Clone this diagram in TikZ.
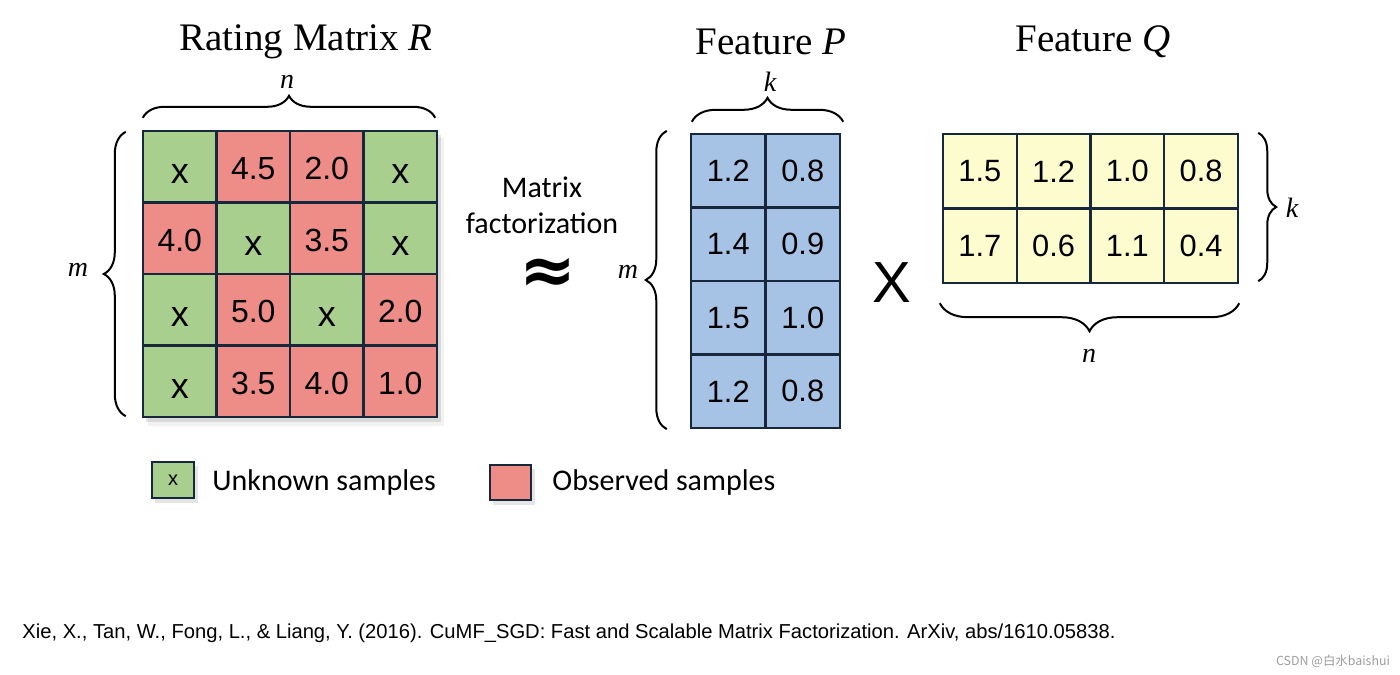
\documentclass[tikz,border=0pt]{standalone}
\usepackage{fontspec}
\setmainfont{Liberation Serif}
\newfontfamily\arialf{Liberation Sans}
\newfontfamily\calib{Carlito}
\newfontfamily\djv{DejaVu Sans}
\newfontfamily\cjkf{Noto Sans CJK SC}
\usetikzlibrary{decorations.pathreplacing}
\definecolor{cgreen}{HTML}{A9CF8E}
\definecolor{cred}{HTML}{EE8D88}
\definecolor{cblue}{HTML}{A6C3E5}
\definecolor{cyel}{HTML}{FDFCCF}
\definecolor{cedge}{HTML}{17283C}
\tikzset{
  cellbase/.style={draw=cedge, line width=1.2pt, inner sep=0pt, anchor=center},
  rcell/.style={cellbase, minimum width=36.75pt, minimum height=35.75pt, font=\arialf\fontsize{16}{17}\selectfont},
  rx/.style={font=\arialf\fontsize{18}{19}\selectfont},
  pcell/.style={cellbase, fill=cblue, minimum width=37.25pt, minimum height=36.75pt, font=\arialf\fontsize{15.4}{16}\selectfont},
  qcell/.style={cellbase, fill=cyel, minimum width=36.9pt, minimum height=37.25pt, font=\arialf\fontsize{15.4}{16}\selectfont},
  bracestyle/.style={draw=black, line width=1pt, decorate, decoration={brace, amplitude=#1}},
  title/.style={font=\fontsize{19.5}{22}\selectfont, inner sep=0pt},
  dimlabel/.style={font=\itshape\fontsize{14}{16}\selectfont, inner sep=0pt},
  caltext/.style={font=\calib\fontsize{15}{17}\selectfont, inner sep=0pt},
  shadowbox/.style={fill=black, opacity=0.10},
}
\begin{document}
\begin{tikzpicture}[x=0.5pt, y=-0.5pt]
\useasboundingbox (0,0) rectangle (1400,674);
\fill[white] (0,0) rectangle (1400,674);

% shadows
\fill[shadowbox] (146,135) rectangle (441,422);
\fill[shadowbox, opacity=0.05] (148,138) rectangle (444,426);
\fill[shadowbox] (155,466) rectangle (198,503);
\fill[shadowbox] (493,469) rectangle (535,505);

% titles
\node[title] (tR) at (306,42) {Rating Matrix \textit{R}};
\node[title] (tP) at (771,42) {Feature \textit{P}};
\node[title] (tQ) at (1093,42) {Feature \textit{Q}};

% rating matrix R
\foreach \r/\c/\t/\f in {
  1/1/x/cgreen, 1/2/4.5/cred, 1/3/2.0/cred, 1/4/x/cgreen,
  2/1/4.0/cred, 2/2/x/cgreen, 2/3/3.5/cred, 2/4/x/cgreen,
  3/1/x/cgreen, 3/2/5.0/cred, 3/3/x/cgreen, 3/4/2.0/cred,
  4/1/x/cgreen, 4/2/3.5/cred, 4/3/4.0/cred, 4/4/1.0/cred}{
  \node[rcell, fill=\f] (r-\r-\c) at ({143+(\c-0.5)*73.5},{131+(\r-0.5)*71.5}) {};
}
\foreach \r/\c/\t in {
  1/2/4.5, 1/3/2.0, 2/1/4.0, 2/3/3.5, 3/2/5.0, 3/4/2.0, 4/2/3.5, 4/3/4.0, 4/4/1.0}{
  \node[rcell, draw=none, text height=13pt, text depth=0pt] (rt-\r-\c) at (r-\r-\c) {\t};
}
\foreach \r/\c in {1/1, 1/4, 2/2, 2/4, 3/1, 3/3, 4/1}{
  \node[rcell, rx, draw=none, text height=11pt, text depth=0pt] (rt-\r-\c) at ([yshift=-3pt]r-\r-\c) {x};
}

% braces of R
\draw[bracestyle=11pt] ([shift={(1,-12)}]r-1-1.north west) -- ([shift={(-3,-12)}]r-1-4.north east);
\node[dimlabel] (rn) at (287,82) {n};
\draw[bracestyle=11pt] ([shift={(-16,-2)}]r-4-1.south west) -- ([shift={(-16,2)}]r-1-1.north west);
\node[dimlabel] (rm) at (78,270) {m};

% Matrix factorization and approx
\node[caltext, align=center] (mf) at (542,205) {Matrix\\[1pt]factorization};
\node[font=\djv\bfseries\fontsize{34}{36}\selectfont, inner sep=0pt] (approx) at (548,276) {≈};

% feature P
\foreach \r/\c/\t in {1/1/1.2, 1/2/0.8, 2/1/1.4, 2/2/0.9, 3/1/1.5, 3/2/1.0, 4/1/1.2, 4/2/0.8}{
  \node[pcell] (p-\r-\c) at ({691+(\c-0.5)*74.5},{134+(\r-0.5)*73.5}) {\t};
}
\draw[bracestyle=12pt] ([shift={(2,-11)}]p-1-1.north west) -- ([shift={(2,-11)}]p-1-2.north east);
\node[dimlabel] (pk) at (770,82) {k};
\draw[bracestyle=10.5pt] ([shift={(-23,0)}]p-4-1.south west) -- ([shift={(-23,-2)}]p-1-1.north west);
\node[dimlabel] (pm) at (628,272) {m};

% times
\node[font=\arialf\fontsize{29}{30}\selectfont, inner sep=0pt] (times) at (892,283) {X};

% feature Q
\foreach \r/\c/\t in {1/1/1.5, 1/2/1.2, 1/3/1.0, 1/4/0.8, 2/1/1.7, 2/2/0.6, 2/3/1.1, 2/4/0.4}{
  \node[qcell] (q-\r-\c) at ({943+(\c-0.5)*73.75},{134+(\r-0.5)*74.5}) {\t};
}
\draw[bracestyle=9pt] ([shift={(19,0)}]q-1-4.north east) -- ([shift={(19,-3)}]q-2-4.south east);
\node[dimlabel] (qk) at (1292,208) {k};
\draw[bracestyle=14pt] ([shift={(0,19)}]q-2-4.south east) -- ([shift={(-2,19)}]q-2-1.south west);
\node[dimlabel] (qn) at (1089,356) {n};

% legend
\node[cellbase, fill=cgreen, minimum width=21pt, minimum height=18pt, font=\arialf\fontsize{10}{11}\selectfont] (lg) at (173,480) {x};
\node[caltext, anchor=west] (lgt) at (212,482) {Unknown samples};
\node[cellbase, fill=cred, minimum width=20.5pt, minimum height=17.5pt] (lr) at (510.5,482.5) {};
\node[caltext, anchor=west] (lrt) at (552,482) {Observed samples};

% citation
\node[anchor=west, inner sep=0pt, font=\arialf] (cite) at (22,633) {\resizebox{546.5pt}{!}{Xie, X., Tan, W., Fong, L., \& Liang, Y. (2016). CuMF\_SGD: Fast and Scalable Matrix Factorization. ArXiv, abs/1610.05838.}};

% watermark
\node[inner sep=0pt, text=black!38, font=\cjkf] (wm) at (1333,661) {\resizebox{57pt}{!}{CSDN @白水baishui}};
\end{tikzpicture}
\end{document}
